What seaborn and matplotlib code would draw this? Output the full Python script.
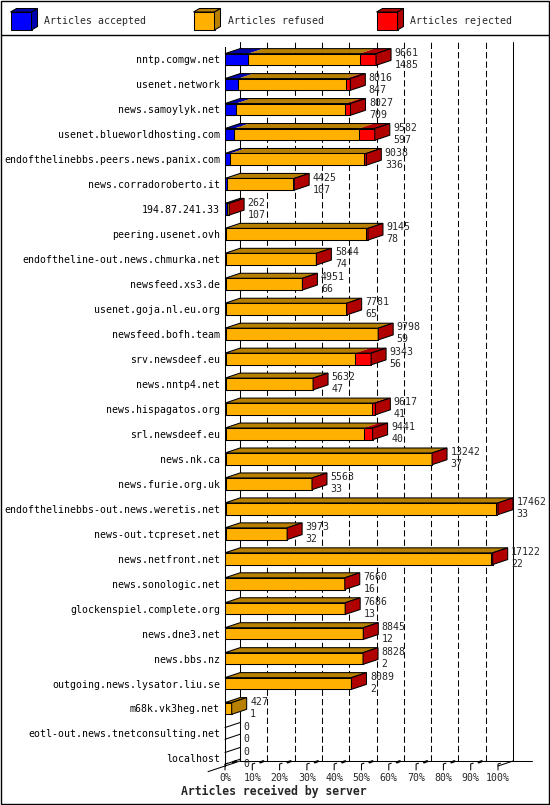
import matplotlib

matplotlib.use("Agg")

import matplotlib.pyplot as plt
import pandas as pd
import seaborn as sns
from matplotlib.lines import Line2D
from matplotlib.patches import Polygon, Rectangle

SERVERS = [
    "nntp.comgw.net",
    "usenet.network",
    "news.samoylyk.net",
    "usenet.blueworldhosting.com",
    "endofthelinebbs.peers.news.panix.com",
    "news.corradoroberto.it",
    "194.87.241.33",
    "peering.usenet.ovh",
    "endoftheline-out.news.chmurka.net",
    "newsfeed.xs3.de",
    "usenet.goja.nl.eu.org",
    "newsfeed.bofh.team",
    "srv.newsdeef.eu",
    "news.nntp4.net",
    "news.hispagatos.org",
    "srl.newsdeef.eu",
    "news.nk.ca",
    "news.furie.org.uk",
    "endofthelinebbs-out.news.weretis.net",
    "news-out.tcpreset.net",
    "news.netfront.net",
    "news.sonologic.net",
    "glockenspiel.complete.org",
    "news.dne3.net",
    "news.bbs.nz",
    "outgoing.news.lysator.liu.se",
    "m68k.vk3heg.net",
    "eotl-out.news.tnetconsulting.net",
    "localhost",
]
TOTALS = [9661, 8016, 8027, 9582, 9038, 4425, 262, 9145, 5844, 4951, 7781, 9798, 9343, 5632,
          9617, 9441, 13242, 5563, 17462, 3973, 17122, 7660, 7686, 8845, 8828, 8089, 427, 0, 0]
ACCEPTED = [1485, 847, 709, 597, 336, 107, 107, 78, 74, 66, 65, 59, 56, 47,
            41, 40, 37, 33, 33, 32, 22, 16, 13, 12, 2, 2, 1, 0, 0]
REFUSED = [7126, 6899, 6998, 7985, 8542, 4258, 135, 8957, 5760, 4875, 7691, 9724, 8277, 5575,
           9376, 8841, 13195, 5525, 17329, 3936, 17000, 7639, 7643, 8828, 8821, 8082, 426, 0, 0]
REJECTED = [1050, 270, 320, 1000, 160, 60, 20, 110, 10, 10, 25, 15, 1010, 10,
            200, 560, 10, 5, 100, 5, 100, 5, 30, 5, 5, 5, 0, 0, 0]

SERIES_NAMES = ["Articles accepted", "Articles refused", "Articles rejected"]
FRONT_COLORS = ["#0000ff", "#ffb000", "#ff0000"]
DARK_COLORS = ["#0000b0", "#b88000", "#b00000"]
TICK_LABELS = [f"{p}%" for p in range(0, 101, 10)]
XLABEL = "Articles received by server"

W, H = 550, 805
FONT = "DejaVu Sans Mono"
FS = 7.1
LW = 0.75

# plot geometry (pixels)
LEFT_PX, RIGHT_PX = 225, 498
TOP_PX, FLOOR_PX = 47, 766
ROW0_PX, ROW_STEP_PX = 59.5, 24.96
DEPTH_X_PX, DEPTH_Y_PX = 15, 5
BAR_H = 0.47


def draw_legend(bg):
    for k, name in enumerate(SERIES_NAMES):
        x0 = 10.5 + k * 183
        bg.add_patch(Rectangle((x0, 12), 21, 18, facecolor=FRONT_COLORS[k],
                               edgecolor="black", lw=LW))
        bg.add_patch(Polygon([(x0, 12), (x0 + 21, 12), (x0 + 27, 8.5), (x0 + 6, 8.5)],
                             facecolor=DARK_COLORS[k], edgecolor="black", lw=LW))
        bg.add_patch(Polygon([(x0 + 21, 12), (x0 + 21, 30), (x0 + 27, 26.5), (x0 + 27, 8.5)],
                             facecolor=DARK_COLORS[k], edgecolor="black", lw=LW))
        bg.text(x0 + 34, 21, name, fontsize=FS, va="center", ha="left")


def main() -> None:
    sns.set_theme(style="white")
    plt.rcParams["font.family"] = [FONT, "DejaVu Sans"]

    df = pd.DataFrame({
        "server": SERVERS,
        "total": TOTALS,
        "accepted": ACCEPTED,
        "refused": REFUSED,
        "rejected": REJECTED,
    })
    df["acc_ref"] = df["accepted"] + df["refused"]
    df["stack"] = df["acc_ref"] + df["rejected"]

    fig = plt.figure(figsize=(W / 100, H / 100), dpi=100)

    bg = fig.add_axes([0, 0, 1, 1], zorder=-1)
    bg.set_xlim(0, W)
    bg.set_ylim(H, 0)
    bg.set_axis_off()
    bg.add_patch(Rectangle((1, 1), W - 2.5, H - 2.5, fill=False, edgecolor="black", lw=1))
    bg.add_line(Line2D([1, W - 1.5], [35.5, 35.5], color="black", lw=1))
    draw_legend(bg)

    ax = fig.add_axes([LEFT_PX / W, 1 - FLOOR_PX / H,
                       (RIGHT_PX - LEFT_PX) / W, (FLOOR_PX - TOP_PX) / H])
    ax.patch.set_visible(False)

    x_max = df["stack"].max()
    px_x = x_max / (RIGHT_PX - LEFT_PX)      # data units per pixel (x)
    px_y = 1 / ROW_STEP_PX                   # rows per pixel (y)
    dx = DEPTH_X_PX * px_x
    dy = DEPTH_Y_PX * px_y
    y_top = (TOP_PX - ROW0_PX) * px_y
    y_floor = (FLOOR_PX - ROW0_PX) * px_y

    # front faces: stacked by overdrawing cumulative sums
    for col, color in zip(["stack", "acc_ref", "accepted"], FRONT_COLORS[::-1]):
        sns.barplot(data=df, x=col, y="server", orient="h", color=color, saturation=1,
                    width=BAR_H, edgecolor="black", linewidth=LW, errorbar=None,
                    ax=ax, zorder=3)

    # back plane grid
    back_top = y_top - dy
    back_floor = y_floor - dy
    for k in range(11):
        x = k * x_max / 10 + dx
        style = "-" if k in (0, 10) else (0, (6, 3))
        ax.add_line(Line2D([x, x], [back_floor, back_top], color="black", lw=LW,
                           linestyle=style, clip_on=False, zorder=1))
    ax.add_line(Line2D([dx, x_max + dx + 19 * px_x], [back_floor, back_floor],
                       color="black", lw=LW, clip_on=False, zorder=1))
    ax.add_line(Line2D([-17 * px_x, dx], [y_floor + 17 / 15 * dy, back_floor],
                       color="black", lw=LW, clip_on=False, zorder=1))
    ax.add_line(Line2D([x_max, x_max + dx], [y_floor, back_floor],
                       color="black", lw=LW, clip_on=False, zorder=1))

    # front ticks and labels
    for k, lab in enumerate(TICK_LABELS):
        x = k * x_max / 10
        ax.add_line(Line2D([x, x, x + 2.5 * px_x],
                           [y_floor + 4 * px_y, y_floor - 2 * px_y, y_floor - 2.8 * px_y],
                           color="black", lw=LW, clip_on=False, zorder=1))
        if k < 10:
            ax.add_line(Line2D([x + 8 * px_x, x + 11 * px_x],
                               [y_floor - 3.6 * px_y, y_floor - 4.8 * px_y],
                               color="black", lw=1.6, clip_on=False, zorder=1))
        ax.text(x, (778 - ROW0_PX) * px_y, lab, fontsize=FS, ha="center", va="center",
                clip_on=False)

    # 3D top and side faces, value labels
    for i, row in df.iterrows():
        yt = i - BAR_H / 2
        yb = i + BAR_H / 2
        total = row["stack"]
        if total == 0:
            for yy in (yt, yb):
                ax.add_line(Line2D([0, dx], [yy, yy - dy], color="black", lw=LW,
                                   clip_on=False, zorder=4))
        else:
            start = 0
            last = 0
            for k, v in enumerate([row["accepted"], row["refused"], row["rejected"]]):
                if v > 0:
                    ax.add_patch(Polygon(
                        [(start, yt), (start + v, yt), (start + v + dx, yt - dy), (start + dx, yt - dy)],
                        closed=True, facecolor=DARK_COLORS[k], edgecolor="none",
                        clip_on=False, zorder=3))
                    last = k
                start += v
            ax.add_patch(Polygon([(0, yt), (total, yt), (total + dx, yt - dy), (dx, yt - dy)],
                                 closed=True, fill=False, edgecolor="black", lw=LW,
                                 clip_on=False, zorder=4))
            ax.add_patch(Polygon([(total, yt), (total, yb), (total + dx, yb - dy), (total + dx, yt - dy)],
                                 closed=True, facecolor=DARK_COLORS[last], edgecolor="black",
                                 lw=LW, clip_on=False, zorder=4))
        tx = total + dx + 3.5 * px_x
        ax.text(tx, i - 0.27, f"{row['total']}", fontsize=FS, ha="left", va="center",
                clip_on=False, zorder=5)
        ax.text(tx, i + 0.21, f"{row['accepted']}", fontsize=FS, ha="left", va="center",
                clip_on=False, zorder=5)

    ax.set_xlim(0, x_max)
    ax.set_ylim(y_floor, y_top)
    ax.set_xticks([])
    ax.set_xlabel("")
    ax.set_ylabel("")
    ax.set_yticks(range(len(SERVERS)))
    ax.set_yticklabels(SERVERS, fontsize=FS)
    ax.tick_params(axis="y", length=0, pad=3.6, colors="black")
    for side in ["top", "right", "bottom"]:
        ax.spines[side].set_visible(False)
    ax.spines["left"].set_color("black")
    ax.spines["left"].set_linewidth(LW)

    fig.text(273.5 / W, 1 - 791.5 / H, XLABEL, fontsize=8.3, fontweight="bold",
             ha="center", va="center")

    fig.savefig("out.png", dpi=100)
    plt.close(fig)


if __name__ == "__main__":
    main()
